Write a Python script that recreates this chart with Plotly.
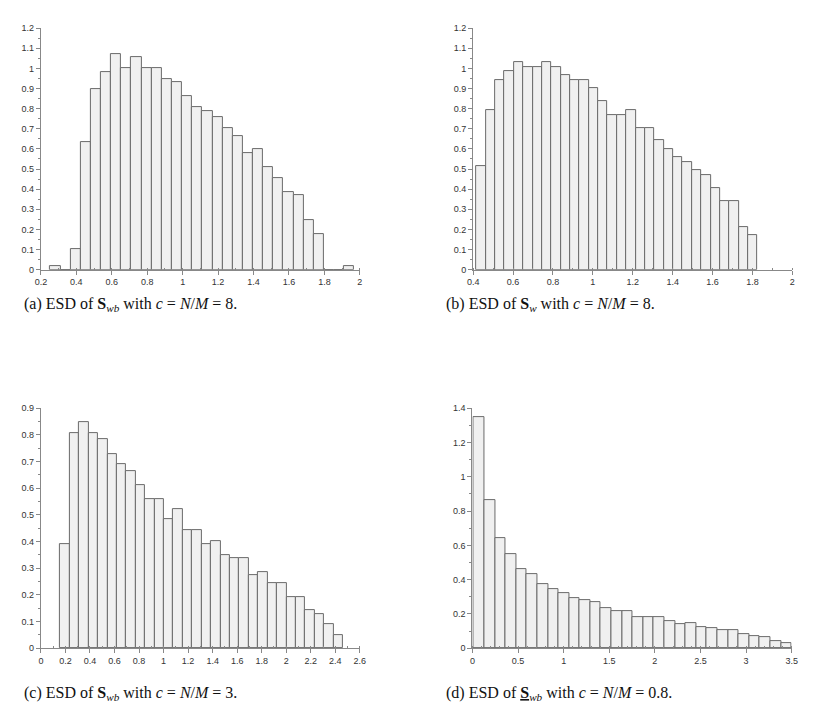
import plotly.graph_objects as go

# ---------------- data ----------------
# (a) ESD of S_wb, c = 8
a_bin_start = 0.253
a_bin_width = 0.0572
a_heights = [0.018, 0.0, 0.104, 0.632, 0.896, 0.983, 1.073, 1.0, 1.055, 1.0,
             1.0, 0.949, 0.931, 0.862, 0.808, 0.790, 0.756, 0.704, 0.666, 0.581,
             0.598, 0.509, 0.456, 0.387, 0.369, 0.247, 0.176, 0.0, 0.0, 0.018]

# (b) ESD of S_w, c = 8
b_bin_start = 0.4165
b_bin_width = 0.04697
b_heights = [0.514, 0.792, 0.944, 0.984, 1.029, 1.007, 1.007, 1.029, 1.007, 0.965,
             0.944, 0.944, 0.900, 0.836, 0.769, 0.769, 0.792, 0.705, 0.705, 0.643,
             0.599, 0.558, 0.532, 0.493, 0.470, 0.407, 0.343, 0.343, 0.214, 0.170]

# (c) ESD of S_wb, c = 3
c_bin_start = 0.158
c_bin_width = 0.07684
c_heights = [0.390, 0.808, 0.846, 0.808, 0.782, 0.729, 0.691, 0.664, 0.611, 0.560,
             0.560, 0.483, 0.521, 0.443, 0.443, 0.390, 0.401, 0.350, 0.339, 0.339,
             0.273, 0.286, 0.246, 0.246, 0.193, 0.193, 0.142, 0.128, 0.090, 0.050]

# (d) ESD of underlined S_wb, c = 0.8
d_bin_start = 0.0144
d_bin_width = 0.1162
d_heights = [1.348, 0.862, 0.645, 0.548, 0.464, 0.431, 0.375, 0.343, 0.322, 0.291,
             0.280, 0.268, 0.236, 0.216, 0.216, 0.182, 0.182, 0.182, 0.161, 0.140,
             0.149, 0.126, 0.119, 0.109, 0.109, 0.084, 0.073, 0.063, 0.042, 0.029]

captions = [
    "(a) ESD of <b>S</b><sub><i>wb</i></sub> with <i>c</i> = <i>N</i>/<i>M</i> = 8.",
    "(b) ESD of <b>S</b><sub><i>w</i></sub> with <i>c</i> = <i>N</i>/<i>M</i> = 8.",
    "(c) ESD of <b>S</b><sub><i>wb</i></sub> with <i>c</i> = <i>N</i>/<i>M</i> = 3.",
    "(d) ESD of <u><b>S</b></u><sub><i>wb</i></sub> with <i>c</i> = <i>N</i>/<i>M</i> = 0.8.",
]

# ---------------- layout / styling ----------------
W, H = 814, 716
panels = [
    dict(start=a_bin_start, width=a_bin_width, h=a_heights,
         px=(27.3, 351), py=(15.3, 260.3), xr=[0.2, 2], yr=[0, 1.2],
         xd=0.2, xm=0.1, yd=0.1, ym=0.05),
    dict(start=b_bin_start, width=b_bin_width, h=b_heights,
         px=(466, 790), py=(15.3, 260.3), xr=[0.4, 2], yr=[0, 1.2],
         xd=0.2, xm=0.1, yd=0.1, ym=0.05),
    dict(start=c_bin_start, width=c_bin_width, h=c_heights,
         px=(27.3, 351), py=(400.7, 644.3), xr=[0, 2.6], yr=[0, 0.9],
         xd=0.2, xm=0.1, yd=0.1, ym=0.05),
    dict(start=d_bin_start, width=d_bin_width, h=d_heights,
         px=(465.3, 789.3), py=(400.7, 644.3), xr=[0, 3.5], yr=[0, 1.4],
         xd=0.5, xm=0.1, yd=0.2, ym=0.1),
]
caption_pos = [(8, 296), (436, 296), (8, 690), (436, 690)]

fig = go.Figure()
layout = dict(width=W, height=H, margin=dict(l=0, r=0, t=0, b=0),
              paper_bgcolor="white", plot_bgcolor="white", showlegend=False,
              bargap=0, font=dict(family="Liberation Sans, Arial", size=9, color="#333"))

tick_font = dict(family="Liberation Sans, Arial", size=9, color="#333")
for i, p in enumerate(panels):
    n = i + 1
    xa = "x" if n == 1 else f"x{n}"
    ya = "y" if n == 1 else f"y{n}"
    centers = [p["start"] + (k + 0.5) * p["width"] for k in range(len(p["h"]))]
    fig.add_trace(go.Bar(
        x=centers, y=p["h"], width=[p["width"]] * len(p["h"]),
        marker=dict(color="#f0f0f0", line=dict(color="#6a6a6a", width=1)),
        xaxis=xa, yaxis=ya, hoverinfo="x+y",
    ))
    common = dict(showline=True, linecolor="#888", linewidth=1, showgrid=False,
                  zeroline=False, ticks="outside", ticklen=4, tickcolor="#888",
                  tickwidth=1, tickfont=tick_font)
    layout[f"xaxis{'' if n == 1 else n}"] = dict(
        domain=[p["px"][0] / W, p["px"][1] / W], range=p["xr"], anchor=ya,
        tick0=0, dtick=p["xd"],
        minor=dict(dtick=p["xm"], ticks="inside", ticklen=2, tickcolor="#888", showgrid=False),
        **common)
    layout[f"yaxis{'' if n == 1 else n}"] = dict(
        domain=[1 - p["py"][1] / H, 1 - p["py"][0] / H], range=p["yr"], anchor=xa,
        tick0=0, dtick=p["yd"],
        minor=dict(dtick=p["ym"], ticks="outside", ticklen=2, tickcolor="#888", showgrid=False),
        **common)

annotations = []
for (cx, cy), txt in zip(caption_pos, captions):
    annotations.append(dict(
        x=cx / W, y=1 - cy / H, xref="paper", yref="paper",
        xanchor="left", yanchor="middle", showarrow=False, text=txt,
        font=dict(family="Liberation Serif, Times New Roman, serif", size=16, color="#111"),
    ))
layout["annotations"] = annotations
fig.update_layout(**layout)

fig.write_html("out.html")
